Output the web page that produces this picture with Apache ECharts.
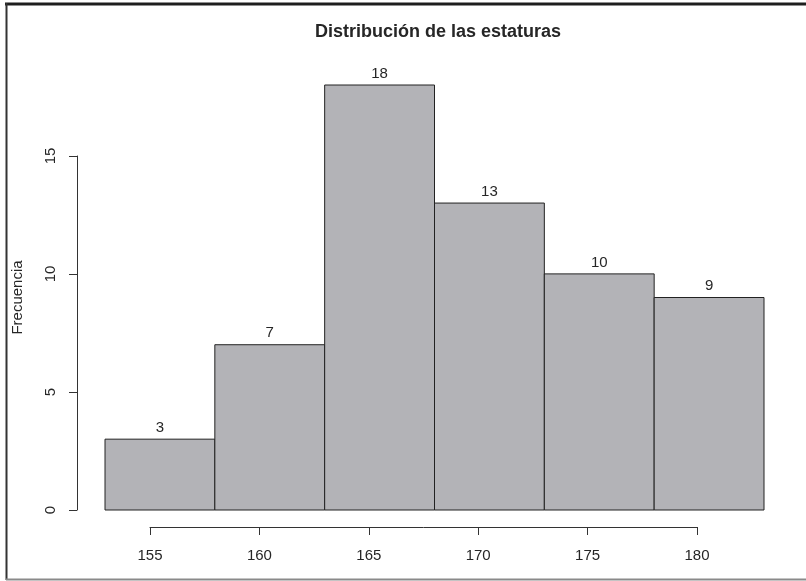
<!DOCTYPE html>
<html>
<head>
<meta charset="utf-8">
<style>
  html, body { margin: 0; padding: 0; background: #fff; }
  #chart { width: 806px; height: 581px; }
</style>
<script src="https://cdn.jsdelivr.net/npm/echarts@6/dist/echarts.min.js"></script>
</head>
<body>
<div id="chart"></div>
<script>
// Histogram bins (height classes, cm) and their frequencies
const breaks = [153, 158, 163, 168, 173, 178, 183];
const counts = [3, 7, 18, 13, 10, 9];
const xTicks = [155, 160, 165, 170, 175, 180];
const yTicks = [0, 5, 10, 15];

const FONT = '"Liberation Sans", Arial, Helvetica, sans-serif';
const INK = '#262626';

const binData = counts.map((c, i) => [breaks[i], breaks[i + 1], c]);

const chart = echarts.init(document.getElementById('chart'));

chart.setOption({
  animation: false,
  backgroundColor: '#ffffff',
  title: {
    text: 'Distribución de las estaturas',
    left: 433,
    textAlign: 'center',
    top: 18,
    textStyle: { fontFamily: FONT, fontSize: 18, fontWeight: 'bold', color: INK }
  },
  grid: [
    // plotting region for the bars
    { left: 105, right: 42, top: 85, bottom: 71, outerBoundsMode: 'none' },
    // frequency axis (0..15)
    { left: 77, right: 728, top: 156, bottom: 71, outerBoundsMode: 'none' },
    // height axis (155..180)
    { left: 150, right: 109, top: 526, bottom: 54, outerBoundsMode: 'none' }
  ],
  xAxis: [
    { gridIndex: 0, type: 'value', min: breaks[0], max: breaks[breaks.length - 1], show: false },
    { gridIndex: 1, type: 'value', show: false },
    {
      gridIndex: 2, type: 'value', position: 'bottom',
      min: xTicks[0], max: xTicks[xTicks.length - 1], interval: 5,
      axisLine: { show: true, lineStyle: { color: '#333', width: 1 } },
      axisTick: { show: true, inside: false, length: 8, lineStyle: { color: '#333', width: 1 } },
      axisLabel: { show: true, margin: 21, fontSize: 15, fontFamily: FONT, color: INK },
      splitLine: { show: false }
    }
  ],
  yAxis: [
    {
      gridIndex: 0, type: 'value', min: 0, max: 18,
      name: 'Frecuencia', nameLocation: 'middle', nameGap: 80, nameRotate: 90,
      nameTextStyle: { fontFamily: FONT, fontSize: 15, color: INK },
      axisLine: { show: false }, axisTick: { show: false },
      axisLabel: { show: false }, splitLine: { show: false }
    },
    {
      gridIndex: 1, type: 'value', position: 'left',
      min: yTicks[0], max: yTicks[yTicks.length - 1], interval: 5,
      axisLine: { show: true, lineStyle: { color: '#333', width: 1 } },
      axisTick: { show: true, inside: false, length: 8, lineStyle: { color: '#333', width: 1 } },
      axisLabel: { show: true, rotate: 90, margin: 19, fontSize: 15, fontFamily: FONT, color: INK },
      splitLine: { show: false }
    },
    { gridIndex: 2, type: 'value', show: false }
  ],
  series: [
    {
      type: 'custom',
      xAxisIndex: 0,
      yAxisIndex: 0,
      data: binData,
      renderItem: function (params, api) {
        const x0 = api.value(0), x1 = api.value(1), n = api.value(2);
        const topLeft = api.coord([x0, n]);
        const bottomRight = api.coord([x1, 0]);
        return {
          type: 'group',
          children: [
            {
              type: 'rect',
              shape: {
                x: topLeft[0], y: topLeft[1],
                width: bottomRight[0] - topLeft[0],
                height: bottomRight[1] - topLeft[1]
              },
              style: { fill: '#b3b3b7', stroke: '#222', lineWidth: 1 }
            },
            {
              type: 'text',
              x: (topLeft[0] + bottomRight[0]) / 2,
              y: topLeft[1] - 4,
              style: {
                text: String(n),
                align: 'center',
                verticalAlign: 'bottom',
                fontFamily: FONT,
                fontSize: 15,
                fill: INK
              }
            }
          ]
        };
      }
    }
  ],
  graphic: [
    { type: 'line', shape: { x1: 5, y1: 4, x2: 806, y2: 4 }, style: { stroke: '#1e1e1e', lineWidth: 3 } },
    { type: 'line', shape: { x1: 6.5, y1: 3, x2: 6.5, y2: 580 }, style: { stroke: '#333', lineWidth: 2 } },
    { type: 'line', shape: { x1: 6, y1: 579.5, x2: 806, y2: 579.5 }, style: { stroke: '#8a8a8a', lineWidth: 2 } }
  ]
});
</script>
</body>
</html>
